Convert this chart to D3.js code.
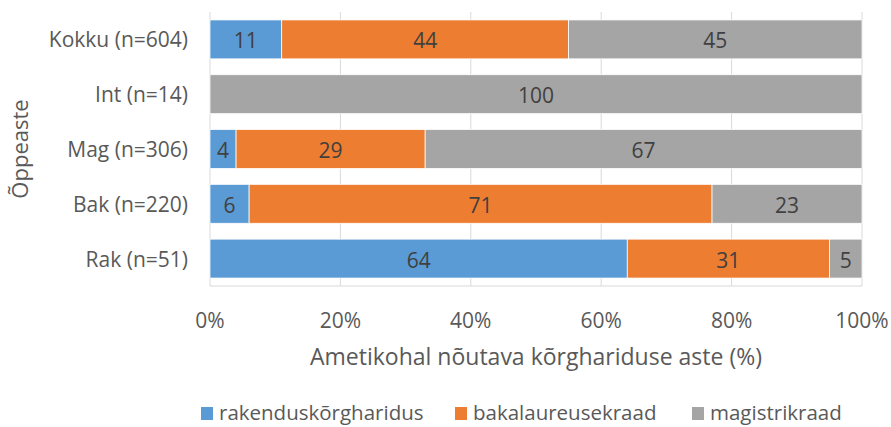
<!DOCTYPE html>
<html lang="et">
<head>
<meta charset="UTF-8">
<title>Õppeaste</title>
<script src="https://cdn.jsdelivr.net/npm/d3@7"></script>
<style>
  body { margin: 0; background: #fff; }
  svg { font-family: "Open Sans", sans-serif; }
  .grid line { stroke: #d9d9d9; stroke-width: 1; }
  .tick-label { fill: #595959; font-size: 21px; }
  .val { fill: #404040; font-size: 21px; }
</style>
</head>
<body>
<svg width="891" height="427"></svg>
<script>
var categories = ["Kokku (n=604)", "Int (n=14)", "Mag (n=306)", "Bak (n=220)", "Rak (n=51)"];
var seriesNames = ["rakenduskõrgharidus", "bakalaureusekraad", "magistrikraad"];
var rakendus = [11, 0, 4, 6, 64];
var bakalaureus = [44, 0, 29, 71, 31];
var magister = [45, 100, 67, 23, 5];
var xTicks = [0, 20, 40, 60, 80, 100];
var colors = ["#5b9bd5", "#ed7d31", "#a5a5a5"];

var svg = d3.select("svg");
var plotLeft = 210, plotRight = 862, plotTop = 12, plotBottom = 286;

var x = d3.scaleLinear().domain([0, 100]).range([plotLeft, plotRight]);
var y = d3.scaleBand().domain(categories).range([plotTop, plotBottom]).paddingInner(0.29).paddingOuter(0.145);

var rows = categories.map(function(c, i) {
  return { cat: c, values: [rakendus[i], bakalaureus[i], magister[i]] };
});
var stack = d3.stack().keys([0, 1, 2]).value(function(d, k) { return d.values[k]; });
var layers = stack(rows);

// gridlines
svg.append("g").attr("class", "grid")
  .selectAll("line").data(xTicks).enter().append("line")
  .attr("x1", function(d) { return x(d); }).attr("x2", function(d) { return x(d); })
  .attr("y1", plotTop).attr("y2", plotBottom);
svg.append("line").attr("x1", plotLeft).attr("x2", plotRight).attr("y1", plotBottom).attr("y2", plotBottom)
  .attr("stroke", "#d9d9d9");

// bars
var layer = svg.selectAll(".layer").data(layers).enter().append("g")
  .attr("fill", function(d, i) { return colors[i]; });
layer.selectAll("rect").data(function(d) { return d.filter(function(s) { return s[1] - s[0] > 0; }); })
  .enter().append("rect")
  .attr("x", function(d) { return x(d[0]); })
  .attr("width", function(d) { return x(d[1]) - x(d[0]); })
  .attr("y", function(d) { return y(d.data.cat); })
  .attr("height", y.bandwidth())
  .attr("stroke", "#fff").attr("stroke-width", 0.75);

var valLayer = svg.selectAll(".vals").data(layers).enter().append("g");
valLayer.selectAll("text").data(function(d) { return d.filter(function(s) { return s[1] - s[0] > 0; }); })
  .enter().append("text")
  .attr("class", "val")
  .attr("x", function(d) { return x((d[0] + d[1]) / 2); })
  .attr("y", function(d) { return y(d.data.cat) + y.bandwidth() / 2 + 1; })
  .attr("text-anchor", "middle").attr("dominant-baseline", "central")
  .text(function(d) { return d[1] - d[0]; });

// category labels
svg.append("g").selectAll("text").data(categories).enter().append("text")
  .attr("class", "tick-label")
  .attr("x", 188).attr("y", function(d) { return y(d) + y.bandwidth() / 2; })
  .attr("text-anchor", "end").attr("dominant-baseline", "central")
  .text(function(d) { return d; });

// x tick labels
svg.append("g").selectAll("text").data(xTicks).enter().append("text")
  .attr("class", "tick-label")
  .attr("x", function(d) { return x(d); }).attr("y", 320)
  .attr("text-anchor", "middle").attr("dominant-baseline", "central")
  .text(function(d) { return d + "%"; });

// axis titles
svg.append("text").attr("x", (plotLeft + plotRight) / 2).attr("y", 356)
  .attr("text-anchor", "middle").attr("dominant-baseline", "central")
  .attr("fill", "#595959").style("font-size", "23px")
  .text("Ametikohal nõutava kõrghariduse aste (%)");
svg.append("text").attr("transform", "translate(19,149) rotate(-90)")
  .attr("text-anchor", "middle").attr("dominant-baseline", "central")
  .attr("fill", "#595959").style("font-size", "22px")
  .text("Õppeaste");

// legend
var legendX = [201, 455, 692];
var legend = svg.append("g").selectAll("g").data(seriesNames).enter().append("g")
  .attr("transform", function(d, i) { return "translate(" + legendX[i] + ",412)"; });
legend.append("rect").attr("x", 0).attr("y", -5).attr("width", 12).attr("height", 13)
  .attr("fill", function(d, i) { return colors[i]; });
legend.append("text").attr("class", "tick-label").attr("x", 18).attr("y", 0)
  .style("font-size", "20.5px")
  .attr("dominant-baseline", "central")
  .text(function(d) { return d; });
</script>
</body>
</html>
